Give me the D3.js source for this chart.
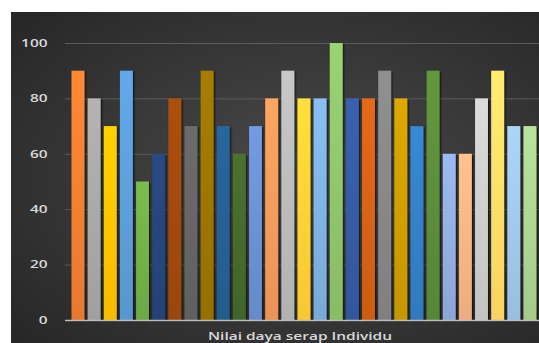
<!DOCTYPE html>
<html>
<head>
<meta charset="utf-8">
<script src="https://cdn.jsdelivr.net/npm/d3@7"></script>
<style>
  html, body { margin: 0; padding: 0; background: #ffffff; }
  svg { display: block; }
</style>
</head>
<body>
<svg id="chart" width="539" height="343"></svg>
<script>
// Individual scores (one bar per person)
const individuals = d3.range(1, 30).map(i => "Individu " + i);
const scores = [90, 80, 70, 90, 50, 60, 80, 70, 90, 70, 60, 70, 80, 90, 80,
                80, 100, 80, 80, 90, 80, 70, 90, 60, 60, 80, 90, 70, 70];
const barColors = ["#ED7D31", "#A5A5A5", "#FFC000", "#5B9BD5", "#70AD47", "#264478",
                   "#9E480E", "#636363", "#997300", "#255E91", "#43682B", "#698ED0",
                   "#F1975A", "#B7B7B7", "#FFCD33", "#7CAFDD", "#8CC168", "#335AA1",
                   "#D26012", "#848484", "#CC9A00", "#327DC2", "#5A8A39", "#8FAADC",
                   "#F4B183", "#C9C9C9", "#FFD966", "#9DC3E6", "#A9D18E"];
const yTicks = [0, 20, 40, 60, 80, 100];
const axisTitle = "Nilai daya serap Individu";

const svg = d3.select("#chart");
const W = 539, H = 343;
const frame = { x: 11, y: 12, w: W - 11, h: H - 12 };
const plot = { left: 65, right: 539, top: 43, bottom: 320 };

const defs = svg.append("defs");

// dark radial background of the chart area
const bg = defs.append("radialGradient").attr("id", "bg")
  .attr("cx", "55%").attr("cy", "50%").attr("r", "75%");
bg.append("stop").attr("offset", "0%").attr("stop-color", "#4a4a4a");
bg.append("stop").attr("offset", "100%").attr("stop-color", "#262626");

// soft dark shadow around each bar
const sh = defs.append("filter").attr("id", "shadow")
  .attr("x", "-40%").attr("y", "-10%").attr("width", "180%").attr("height", "120%");
sh.append("feGaussianBlur").attr("in", "SourceAlpha").attr("stdDeviation", 1.3).attr("result", "b");
sh.append("feOffset").attr("in", "b").attr("dx", 0.5).attr("dy", 0.5).attr("result", "o");
sh.append("feComponentTransfer").attr("in", "o").attr("result", "s")
  .append("feFuncA").attr("type", "linear").attr("slope", 0.85);
const m = sh.append("feMerge");
m.append("feMergeNode").attr("in", "s");
m.append("feMergeNode").attr("in", "SourceGraphic");

// vertical gradient per bar: lighter at the top
barColors.forEach((c, i) => {
  const g = defs.append("linearGradient").attr("id", "bar" + i)
    .attr("x1", 0).attr("y1", 0).attr("x2", 0).attr("y2", 1);
  g.append("stop").attr("offset", "0%").attr("stop-color", d3.color(c).brighter(0.25));
  g.append("stop").attr("offset", "100%").attr("stop-color", d3.color(c).darker(0.08));
});

svg.append("rect")
  .attr("x", frame.x).attr("y", frame.y)
  .attr("width", frame.w).attr("height", frame.h)
  .attr("fill", "url(#bg)");

const x = d3.scaleBand()
  .domain(individuals)
  .range([69.9, 538])
  .paddingInner(0.2)
  .paddingOuter(0.1);

const y = d3.scaleLinear().domain([0, 100]).range([plot.bottom, plot.top]);

// gridlines
svg.append("g")
  .selectAll("line")
  .data(yTicks.filter(t => t > 0))
  .join("line")
  .attr("x1", plot.left).attr("x2", plot.right)
  .attr("y1", d => y(d) + 0.5).attr("y2", d => y(d) + 0.5)
  .attr("stroke", "#5c5c5c").attr("stroke-width", 1);

// bars
svg.append("g")
  .selectAll("rect")
  .data(scores)
  .join("rect")
  .attr("x", (d, i) => x(individuals[i]))
  .attr("y", d => y(d))
  .attr("width", x.bandwidth())
  .attr("height", d => y(0) - y(d))
  .attr("fill", (d, i) => `url(#bar${i})`)
  .attr("filter", "url(#shadow)");

// baseline
svg.append("line")
  .attr("x1", plot.left).attr("x2", plot.right)
  .attr("y1", y(0) + 0.5).attr("y2", y(0) + 0.5)
  .attr("stroke", "#bdbdbd").attr("stroke-width", 1.5);

// y axis labels (wide, low digits)
const yAxis = d3.axisLeft(y).tickValues(yTicks).tickSize(0).tickPadding(0);
const ya = svg.append("g")
  .attr("transform", `translate(47.5,0)`)
  .call(yAxis);
ya.select(".domain").remove();
ya.selectAll("text")
  .attr("fill", "#d9d9d9")
  .attr("font-family", "'Open Sans', sans-serif")
  .attr("font-weight", 600)
  .attr("font-size", 10.5)
  .attr("textLength", d => String(d).length * 8.8)
  .attr("lengthAdjust", "spacingAndGlyphs");

// axis title
svg.append("text")
  .attr("x", 300).attr("y", 340)
  .attr("text-anchor", "middle")
  .attr("fill", "#d9d9d9")
  .attr("font-family", "'Open Sans', sans-serif")
  .attr("font-weight", 600)
  .attr("font-size", 11)
  .attr("textLength", 184)
  .attr("lengthAdjust", "spacingAndGlyphs")
  .text(axisTitle);
</script>
</body>
</html>
